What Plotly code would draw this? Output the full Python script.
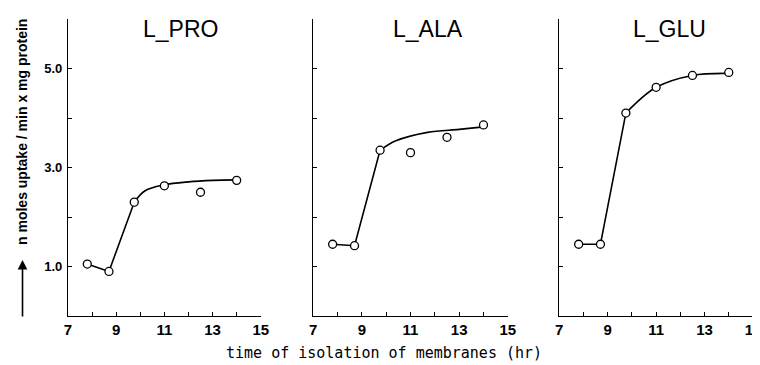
import plotly.graph_objects as go

# ---- data ----
hours = [7.8, 8.7, 9.75, 11.0, 12.5, 14.0]
pro_vals = [1.05, 0.90, 2.30, 2.63, 2.50, 2.74]
ala_vals = [1.45, 1.42, 3.35, 3.30, 3.61, 3.86]
glu_vals = [1.45, 1.45, 4.10, 4.62, 4.86, 4.92]

# fitted curves drawn in the figure
pro_fit_x = [9.75, 10.2, 11.0, 12.0, 13.0, 14.0]
pro_fit_y = [2.30, 2.53, 2.65, 2.71, 2.74, 2.75]
ala_fit_x = [9.75, 10.4, 11.7, 13.0, 14.0]
ala_fit_y = [3.35, 3.54, 3.71, 3.77, 3.82]
glu_fit_x = [9.75, 11.0, 12.5, 14.0]
glu_fit_y = [4.10, 4.62, 4.86, 4.90]

titles = ["L_PRO", "L_ALA", "L_GLU"]
x_tickvals = [7, 8, 9, 10, 11, 12, 13, 14, 15]
x_ticktext = ["7", "", "9", "", "11", "", "13", "", "15"]
y_tickvals = [0, 1, 2, 3, 4, 5, 6]
y_ticktext = ["", "1.0", "", "3.0", "", "5.0", ""]
x_title = "time of isolation of membranes (hr)"
y_title = "n moles uptake / min x mg protein"

series = [
    (pro_vals, pro_fit_x, pro_fit_y),
    (ala_vals, ala_fit_x, ala_fit_y),
    (glu_vals, glu_fit_x, glu_fit_y),
]

domains = [[0.0, 0.2814], [0.3579, 0.6421], [0.7172, 1.0]]
title_x = [0.585, 0.59, 0.57]

fig = go.Figure()
line_style = dict(color="black", width=1.6)
for i, (vals, fx, fy) in enumerate(series):
    xa = "x" if i == 0 else f"x{i+1}"
    ya = "y" if i == 0 else f"y{i+1}"
    # straight segments for first three points
    fig.add_trace(go.Scatter(x=hours[:3], y=vals[:3], mode="lines",
                             line=line_style, xaxis=xa, yaxis=ya,
                             showlegend=False, hoverinfo="skip"))
    # smooth fitted curve
    fig.add_trace(go.Scatter(x=fx, y=fy, mode="lines",
                             line=dict(color="black", width=1.6, shape="spline", smoothing=1.0),
                             xaxis=xa, yaxis=ya, showlegend=False, hoverinfo="skip"))
    # open circle markers
    fig.add_trace(go.Scatter(x=hours, y=vals, mode="markers",
                             marker=dict(symbol="circle", size=8, color="white",
                                         line=dict(color="black", width=1.3)),
                             xaxis=xa, yaxis=ya, showlegend=False))

tick_font_x = dict(family="Liberation Sans, Arial", size=15, color="black", weight="bold")
tick_font_y = dict(family="Liberation Sans, Arial", size=13, color="black", weight="bold")

layout = dict(
    width=760, height=365,
    margin=dict(l=60, r=7, t=11, b=57),
    paper_bgcolor="white", plot_bgcolor="white",
    font=dict(family="Liberation Sans, Arial", color="black"),
    showlegend=False,
)
for i in range(3):
    xkey = "xaxis" if i == 0 else f"xaxis{i+1}"
    ykey = "yaxis" if i == 0 else f"yaxis{i+1}"
    ya = "y" if i == 0 else f"y{i+1}"
    xa = "x" if i == 0 else f"x{i+1}"
    layout[xkey] = dict(
        domain=domains[i], range=[7, 15], anchor=ya,
        tickmode="array", tickvals=x_tickvals, ticktext=x_ticktext,
        ticks="inside", ticklen=4, tickwidth=1.3, tickcolor="black",
        showline=True, linecolor="black", linewidth=1.3,
        showgrid=False, zeroline=False, tickfont=tick_font_x,
    )
    layout[ykey] = dict(
        domain=[0, 1], range=[0, 6], anchor=xa,
        tickmode="array", tickvals=y_tickvals, ticktext=y_ticktext,
        showticklabels=(i == 0),
        ticks="inside", ticklen=4, tickwidth=1.3, tickcolor="black",
        showline=True, linecolor="black", linewidth=1.3,
        showgrid=False, zeroline=False, tickfont=tick_font_y, ticklabelstandoff=2,
    )
fig.update_layout(**layout)

annotations = []
for i in range(3):
    xa = "x" if i == 0 else f"x{i+1}"
    ya = "y" if i == 0 else f"y{i+1}"
    annotations.append(dict(
        text=titles[i], xref=f"{xa} domain", yref=f"{ya} domain",
        x=title_x[i], y=0.966, xanchor="center", yanchor="middle",
        showarrow=False, font=dict(family="Liberation Sans, Arial", size=23, color="black"),
    ))
annotations.append(dict(
    text=x_title, xref="paper", yref="paper", x=0.4618, y=-0.125,
    xanchor="center", yanchor="middle", showarrow=False,
    font=dict(family="DejaVu Sans Mono, Liberation Mono", size=15, color="black"),
))
annotations.append(dict(
    text=y_title, xref="paper", yref="paper", x=-0.0664, y=0.618,
    xanchor="center", yanchor="middle", textangle=-90, showarrow=False,
    font=dict(family="Liberation Sans, Arial", size=14, color="black", weight="bold"),
))
annotations.append(dict(
    text="", xref="paper", yref="paper", x=-0.0664, y=(308 - 252) / 297,
    showarrow=True, arrowhead=2, arrowsize=1.2, arrowwidth=1.6, arrowcolor="black",
    ax=0, ay=58,
))
fig.update_layout(annotations=annotations)

fig.write_html("out.html")
